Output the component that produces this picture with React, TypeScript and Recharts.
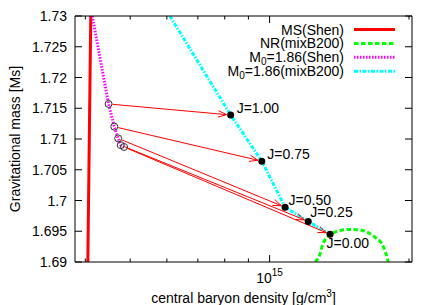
import { ComposedChart, Line, Scatter, XAxis, YAxis, ReferenceLine, Legend } from 'recharts';

// axis ranges and ticks
const densityDomain = [3.8e14, 2.03e15];
const massDomain = [1.69, 1.73];
const densityTicks = [4e14, 5e14, 6e14, 7e14, 8e14, 9e14, 1e15, 2e15];
const massTicks = [1.69, 1.695, 1.7, 1.705, 1.71, 1.715, 1.72, 1.725, 1.73];

// mass-shedding limit (Shen)
const msShen = [
  { rho: 4.05e14, mass: 1.69 },
  { rho: 4.08e14, mass: 1.71 },
  { rho: 4.11e14, mass: 1.73 },
];

// non-rotating sequence (mixB200)
const nrMixB200 = [
  { rho: 1.255e15, mass: 1.69 },
  { rho: 1.285e15, mass: 1.6913 },
  { rho: 1.304e15, mass: 1.693 },
  { rho: 1.371e15, mass: 1.6947 },
  { rho: 1.419e15, mass: 1.6951 },
  { rho: 1.492e15, mass: 1.6953 },
  { rho: 1.568e15, mass: 1.6952 },
  { rho: 1.648e15, mass: 1.6946 },
  { rho: 1.698e15, mass: 1.6939 },
  { rho: 1.746e15, mass: 1.693 },
  { rho: 1.779e15, mass: 1.6916 },
  { rho: 1.804e15, mass: 1.69 },
];

// M0 = 1.86 sequence, Shen: entry at the top frame, then the arrow start points
const shenTop = { rho: 4.14e14, mass: 1.73 };
const shenStarts = [
  { rho: 4.49e14, mass: 1.7157 },
  { rho: 4.62e14, mass: 1.712 },
  { rho: 4.71e14, mass: 1.7101 },
  { rho: 4.77e14, mass: 1.709 },
  { rho: 4.85e14, mass: 1.7087 },
];

// M0 = 1.86 sequence, mixB200: entry at the top frame, then the arrow end points
const mixTop = { rho: 6.09e14, mass: 1.73 };
const mixEnds = [
  { rho: 8.24e14, mass: 1.7139, label: 'J=1.00' },
  { rho: 9.62e14, mass: 1.7064, label: 'J=0.75' },
  { rho: 1.08e15, mass: 1.6989, label: 'J=0.50' },
  { rho: 1.212e15, mass: 1.6966, label: 'J=0.25' },
  { rho: 1.351e15, mass: 1.6945, label: 'J=0.00' },
];

const seriesStyles = [
  { name: 'MS(Shen)', stroke: '#ff0000', width: 3, dash: undefined },
  { name: 'NR(mixB200)', stroke: '#00ff00', width: 3, dash: '4.5 2.5' },
  { name: 'M₀=1.86(Shen)', stroke: '#ff00ff', width: 3, dash: '1.5 1.5' },
  { name: 'M₀=1.86(mixB200)', stroke: '#00ffff', width: 3, dash: '4 1.5 1.5 1.5' },
];

// text offset from each J point: [dx to start, dy to baseline]
const labelOffsets: Record<string, [number, number]> = {
  'J=1.00': [6, -2],
  'J=0.75': [5.5, -2],
  'J=0.50': [3.5, -2.5],
  'J=0.25': [2, -4.5],
  'J=0.00': [-3.5, 14],
};

const font = '"Liberation Sans", Arial, Helvetica, sans-serif';

const isDecade = (v: number) => Math.abs(Math.log10(v) - Math.round(Math.log10(v))) < 1e-6;

const BottomTick = ({ x, y, payload }: any) => {
  const major = isDecade(payload.value);
  return (
    <g>
      <line x1={x} y1={y} x2={x} y2={y - (major ? 7 : 3.5)} stroke="#000" />
      {major && (
        <text x={x} y={y + 21} textAnchor="middle" fontSize={14} fill="#000">
          10
          <tspan dy={-7} fontSize={10}>
            {Math.round(Math.log10(payload.value))}
          </tspan>
        </text>
      )}
    </g>
  );
};

const TopTick = ({ x, y, payload }: any) => (
  <line x1={x} y1={y} x2={x} y2={y + (isDecade(payload.value) ? 7 : 3.5)} stroke="#000" />
);

const LeftTick = ({ x, y, payload }: any) => (
  <g>
    <line x1={x} y1={y} x2={x + 7} y2={y} stroke="#000" />
    <text x={x - 8} y={y + 5} textAnchor="end" fontSize={14} fill="#000">
      {payload.value}
    </text>
  </g>
);

const RightTick = ({ x, y }: any) => <line x1={x} y1={y} x2={x - 7} y2={y} stroke="#000" />;

const YTitle = ({ viewBox }: any) => {
  const x = viewBox.x + viewBox.width - 55;
  const y = viewBox.y + viewBox.height / 2;
  return (
    <text x={x} y={y} transform={`rotate(-90 ${x} ${y})`} textAnchor="middle" fontSize={14} fill="#000">
      Gravitational mass [Ms]
    </text>
  );
};

const XTitle = ({ viewBox }: any) => (
  <text x={viewBox.x + viewBox.width / 2} y={viewBox.y + 40.5} textAnchor="middle" fontSize={14} fill="#000">
    central baryon density [g/cm
    <tspan dy={-6} fontSize={10}>
      3
    </tspan>
    <tspan dy={6}>]</tspan>
  </text>
);

const withSub = (name: string) => {
  const [head, tail] = name.split('₀');
  if (tail === undefined) return name;
  return (
    <>
      {head}
      <tspan dy={3} fontSize={10}>
        0
      </tspan>
      <tspan dy={-3}>{tail}</tspan>
    </>
  );
};

const LegendBox = () => (
  <svg width={436} height={80} style={{ display: 'block', fontFamily: font }}>
    {seriesStyles.map((s, i) => {
      const y = 29.5 + i * 13.9;
      return (
        <g key={s.name}>
          <text x={344} y={y + 5} textAnchor="end" fontSize={14} fill="#000">
            {withSub(s.name)}
          </text>
          <line x1={354} x2={395} y1={y} y2={y} stroke={s.stroke} strokeWidth={s.width} strokeDasharray={s.dash} />
        </g>
      );
    })}
  </svg>
);

const Arrow = ({ x1, y1, x2, y2 }: any) => {
  const a = Math.atan2(y2 - y1, x2 - x1);
  const sx = x1 + Math.cos(a) * 4;
  const sy = y1 + Math.sin(a) * 4;
  const ex = x2 - Math.cos(a) * 4;
  const ey = y2 - Math.sin(a) * 4;
  const head = 9;
  const spread = 0.36;
  const h1 = `${ex - head * Math.cos(a - spread)},${ey - head * Math.sin(a - spread)}`;
  const h2 = `${ex - head * Math.cos(a + spread)},${ey - head * Math.sin(a + spread)}`;
  return (
    <g stroke="#ff0000" strokeWidth={1} fill="none">
      <line x1={sx} y1={sy} x2={ex} y2={ey} />
      <polyline points={`${h1} ${ex},${ey} ${h2}`} />
    </g>
  );
};

const OpenCircle = ({ cx, cy }: any) => <circle cx={cx} cy={cy} r={3.5} fill="none" stroke="#333" strokeWidth={1} />;

const JPoint = ({ cx, cy, payload }: any) => {
  const [dx, dy] = labelOffsets[payload.label] ?? [5, -3];
  return (
    <g>
      <circle cx={cx} cy={cy} r={3.5} fill="#000" />
      <text x={cx + dx} y={cy + dy} fontSize={14} fill="#000">
        {payload.label}
      </text>
    </g>
  );
};

export default function App() {
  const [ms, nr, seqShen, seqMix] = seriesStyles;
  return (
    <div style={{ position: 'absolute', left: 0, top: 0, width: 436, height: 305, background: '#fff', fontFamily: font }}>
      <ComposedChart width={436} height={305} margin={{ top: 15, right: 23, bottom: 42, left: 74 }} style={{ fontFamily: font }}>
        <XAxis
          type="number"
          dataKey="rho"
          scale="log"
          domain={densityDomain}
          allowDataOverflow
          ticks={densityTicks}
          interval={0}
          tick={BottomTick}
          tickLine={false}
          tickSize={0}
          tickMargin={0}
          height={1}
          stroke="#000"
          label={<XTitle />}
        />
        <XAxis
          xAxisId="top"
          orientation="top"
          type="number"
          dataKey="rho"
          scale="log"
          domain={densityDomain}
          allowDataOverflow
          ticks={densityTicks}
          interval={0}
          tick={TopTick}
          tickLine={false}
          tickSize={0}
          tickMargin={0}
          height={1}
          stroke="#000"
        />
        <YAxis
          type="number"
          dataKey="mass"
          domain={massDomain}
          allowDataOverflow
          ticks={massTicks}
          interval={0}
          tick={LeftTick}
          tickLine={false}
          tickSize={0}
          tickMargin={0}
          width={1}
          stroke="#000"
          label={<YTitle />}
        />
        <YAxis
          yAxisId="right"
          orientation="right"
          type="number"
          dataKey="mass"
          domain={massDomain}
          allowDataOverflow
          ticks={massTicks}
          interval={0}
          tick={RightTick}
          tickLine={false}
          tickSize={0}
          tickMargin={0}
          width={1}
          stroke="#000"
        />
        <Legend
          layout="vertical"
          align="center"
          verticalAlign="middle"
          content={<LegendBox />}
          wrapperStyle={{ left: 0, top: 0, width: 436, height: 80 }}
        />
        <Line data={msShen} dataKey="mass" name={ms.name} stroke={ms.stroke} strokeWidth={ms.width} dot={false} isAnimationActive={false} />
        <Line
          data={nrMixB200}
          dataKey="mass"
          name={nr.name}
          type="monotone"
          stroke={nr.stroke}
          strokeWidth={nr.width}
          strokeDasharray={nr.dash}
          dot={false}
          isAnimationActive={false}
        />
        <Line
          data={[shenTop, ...shenStarts]}
          dataKey="mass"
          name={seqShen.name}
          stroke={seqShen.stroke}
          strokeWidth={seqShen.width}
          strokeDasharray={seqShen.dash}
          dot={false}
          isAnimationActive={false}
        />
        <Line
          data={[mixTop, ...mixEnds]}
          dataKey="mass"
          name={seqMix.name}
          stroke={seqMix.stroke}
          strokeWidth={seqMix.width}
          strokeDasharray={seqMix.dash}
          dot={false}
          isAnimationActive={false}
        />
        {shenStarts.map((s, i) => (
          <ReferenceLine
            key={mixEnds[i].label}
            segment={[
              { x: s.rho, y: s.mass },
              { x: mixEnds[i].rho, y: mixEnds[i].mass },
            ]}
            ifOverflow="visible"
            shape={Arrow}
          />
        ))}
        <Scatter data={shenStarts} legendType="none" shape={OpenCircle} isAnimationActive={false} />
        <Scatter data={mixEnds} legendType="none" shape={JPoint} isAnimationActive={false} />
      </ComposedChart>
    </div>
  );
}
